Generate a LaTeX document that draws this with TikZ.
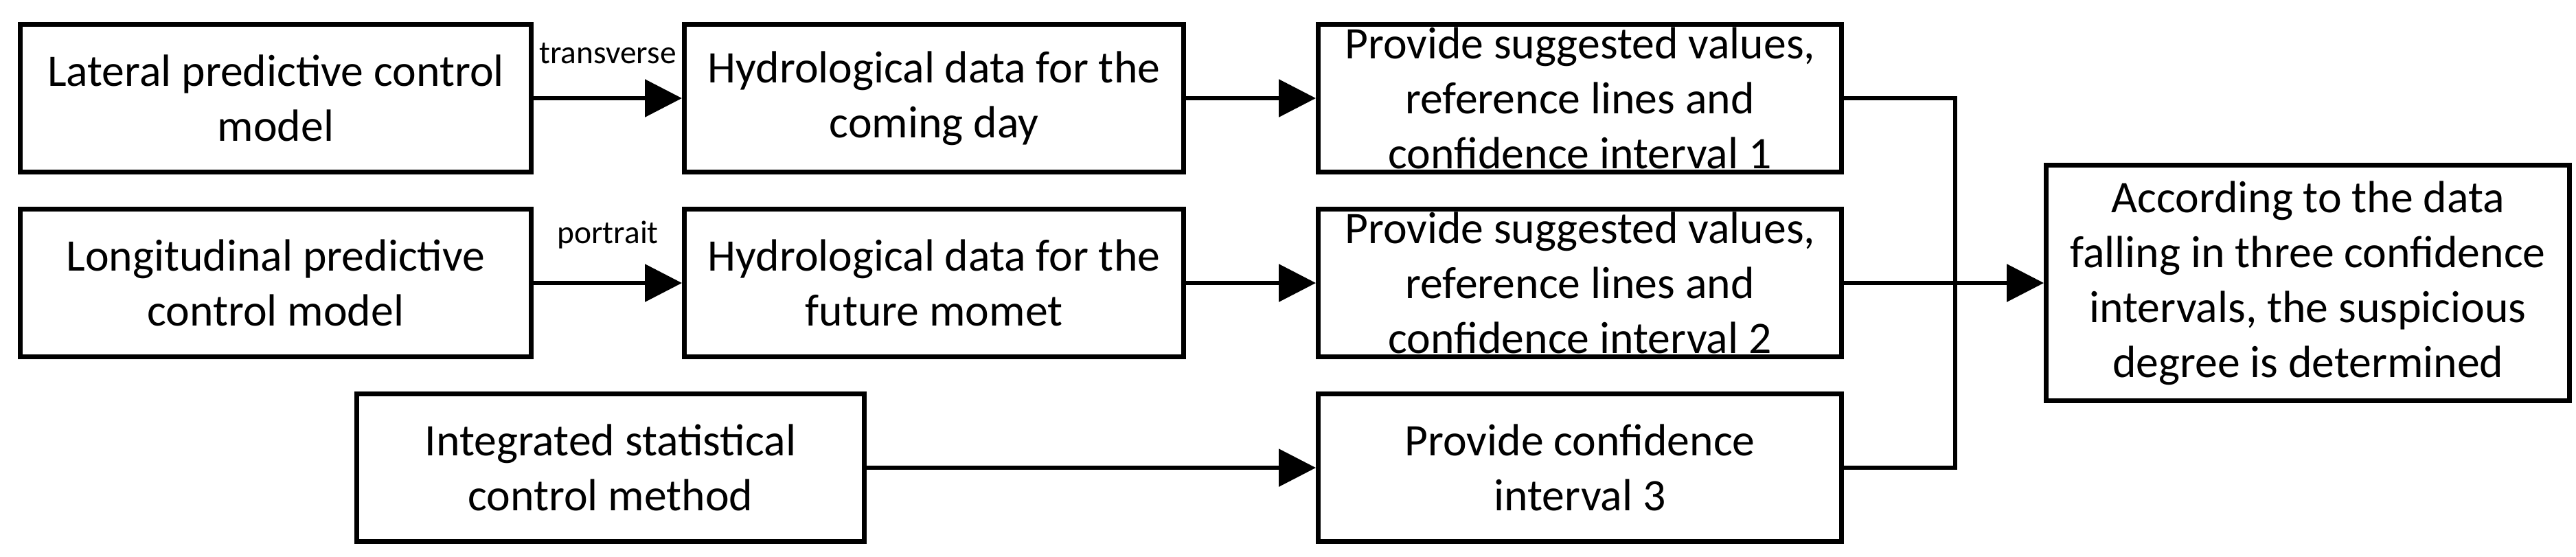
\documentclass[tikz,border=0pt]{standalone}
\usepackage{fontspec}
\setmainfont{Carlito}
\usetikzlibrary{arrows.meta, positioning, quotes}
\tikzstyle{every picture} = [node distance=0.47cm]

\begin{document}
\begin{tikzpicture} [box/.style={draw, line width=2pt, align=center, inner xsep=1mm, inner ysep=0mm, minimum height=2.15cm, font=\fontsize{18.7}{22.8}\selectfont},
            >={Triangle[length=5.4mm, width=5.4mm]},
            every edge/.append style={line width=1.7pt},
            every edge quotes/.append style={font=\fontsize{13.5}{16}\selectfont, inner xsep=.1mm, inner ysep=.2mm, yshift=4.5mm}]
            \useasboundingbox (0,0) rectangle (37.51,-8.10);
            \node (node 1) [box,minimum width=7.44cm] at (4.015,-1.43) {Lateral predictive control\\model};
            \node (node 2) [box,minimum width=7.44cm,below=of node 1] {Longitudinal predictive\\control model};
            \node (node 3) [box,minimum width=7.27cm,right=2.16cm of node 1] {Hydrological data for the\\coming day};
            \node (node 4) [box,minimum width=7.27cm,below=of node 3] {Hydrological data for the\\future momet};
            \node (node 5) [box,minimum width=7.62cm,right=1.89cm of node 3] {Provide suggested values,\\reference lines and\\confidence interval 1};
            \node (node 6) [box,minimum width=7.62cm,below=of node 5] {Provide suggested values,\\reference lines and\\confidence interval 2};
            \node (node 7) [box,minimum width=7.62cm,below=of node 6] {Provide confidence\\interval 3};
            \node (node 8) [box,minimum width=7.39cm,left=6.54cm of node 7] {Integrated statistical\\control method};
            \node (node 9) [box,minimum width=7.62cm,minimum height=3.43cm,right=2.91cm of node 6] {According to the data\\falling in three confidence\\intervals, the suspicious\\degree is determined};
            \coordinate (join) at (28.47,-4.05);

            \path (node 1) edge[->,"transverse"] (node 3)
                  (node 2) edge[->,"portrait"] (node 4)
                  (node 3) edge[->] (node 5)
                  (node 4) edge[->] (node 6)
                  (node 8) edge[->] (node 7)
                  (node 6) edge[->] (node 9);
            \draw[line width=1.7pt] (node 5) -| (join) |- (node 7);
        \end{tikzpicture}
\end{document}
